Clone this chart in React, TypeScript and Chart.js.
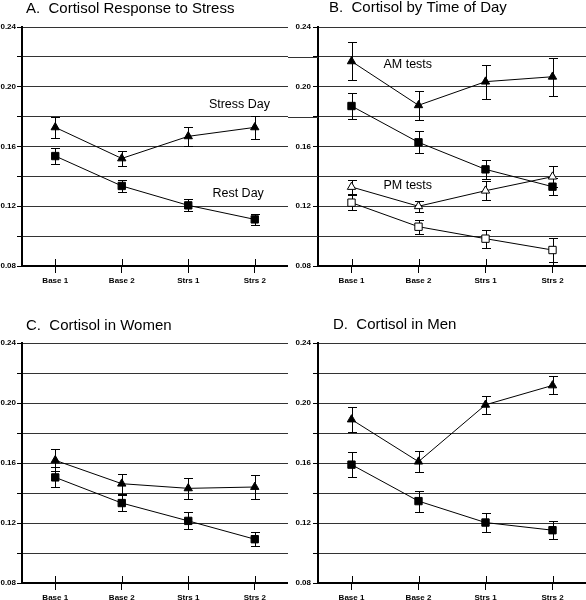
import React, { useEffect, useRef } from "react";
import { Chart, registerables } from "chart.js";

Chart.register(...registerables);

// ---------- data ----------
const categories = ["Base 1", "Base 2", "Strs 1", "Strs 2"];
const yMin = 0.08;
const yMax = 0.24;
const yStep = 0.02;

// Panel A: Cortisol Response to Stress
const stressDay = [0.1728, 0.152, 0.1668, 0.1728];
const stressDayErr = [0.007, 0.0053, 0.0065, 0.0075];
const restDay = [0.1536, 0.1336, 0.1206, 0.1112];
const restDayErr = [0.0054, 0.0043, 0.004, 0.0037];

// Panel B: Cortisol by Time of Day
const amStress = [0.217, 0.1876, 0.2034, 0.2067];
const amStressErr = [0.0128, 0.0096, 0.0114, 0.0127];
const amRest = [0.1871, 0.1628, 0.1447, 0.1331];
const amRestErr = [0.0085, 0.0074, 0.0064, 0.0055];
const pmStress = [0.1329, 0.12, 0.1304, 0.1398];
const pmStressErr = [0.005, 0.0038, 0.0063, 0.0072];
const pmRest = [0.1224, 0.1063, 0.0983, 0.0907];
const pmRestErr = [0.0052, 0.0046, 0.006, 0.0082];

// Panel C: Cortisol in Women
const womenStress = [0.1618, 0.1462, 0.1431, 0.144];
const womenStressErr = [0.0074, 0.0067, 0.0068, 0.0078];
const womenRest = [0.1504, 0.1333, 0.1214, 0.1092];
const womenRestErr = [0.0067, 0.0054, 0.0057, 0.0045];

// Panel D: Cortisol in Men
const menStress = [0.189, 0.1609, 0.1988, 0.2117];
const menStressErr = [0.0086, 0.0069, 0.0059, 0.006];
const menRest = [0.1589, 0.1346, 0.1203, 0.1152];
const menRestErr = [0.0085, 0.007, 0.0062, 0.006];

const FONT = '"Liberation Sans", Arial, Helvetica, sans-serif';

// ---------- plugins ----------
const errorBarPlugin = {
  id: "errorBars",
  beforeDatasetsDraw(chart: any) {
    const ctx = chart.ctx;
    const ys = chart.scales.y;
    chart.data.datasets.forEach((ds: any, i: number) => {
      const errs = ds.errors;
      if (!errs) return;
      const meta = chart.getDatasetMeta(i);
      meta.data.forEach((pt: any, j: number) => {
        const v = ds.data[j];
        const e = errs[j];
        const x = Math.round(pt.x) + 0.5;
        const yt = Math.round(ys.getPixelForValue(v + e)) + 0.5;
        const yb = Math.round(ys.getPixelForValue(v - e)) + 0.5;
        ctx.save();
        ctx.strokeStyle = "#000";
        ctx.lineWidth = 1;
        ctx.beginPath();
        ctx.moveTo(x, yt);
        ctx.lineTo(x, yb);
        ctx.moveTo(x - 4.5, yt);
        ctx.lineTo(x + 4.5, yt);
        ctx.moveTo(x - 4.5, yb);
        ctx.lineTo(x + 4.5, yb);
        ctx.stroke();
        ctx.restore();
      });
    });
  },
};

const decorPlugin = {
  id: "panelDecor",
  afterDraw(chart: any, _args: any, opts: any) {
    const ctx = chart.ctx;
    const area = chart.chartArea;
    const xs = chart.scales.x;
    const ys = chart.scales.y;
    ctx.save();
    // x ticks crossing above the axis
    ctx.strokeStyle = "#000";
    ctx.lineWidth = 1;
    ctx.beginPath();
    xs.ticks.forEach((_t: any, i: number) => {
      const x = Math.round(xs.getPixelForTick(i)) + 0.5;
      ctx.moveTo(x, area.bottom - 7);
      ctx.lineTo(x, area.bottom);
    });
    ctx.stroke();
    // long minor gridline stubs
    if (opts.extendMinor) {
      ctx.strokeStyle = "#333";
      ctx.beginPath();
      ys.ticks.forEach((t: any) => {
        const k = Math.round(t.value * 100);
        if (k % 4 !== 0) {
          const y = Math.round(ys.getPixelForValue(t.value)) + 0.5;
          ctx.moveTo(0, y);
          ctx.lineTo(area.left, y);
        }
      });
      ctx.stroke();
    }
    // title
    ctx.fillStyle = "#000";
    ctx.font = `15px ${FONT}`;
    ctx.textAlign = "left";
    ctx.textBaseline = "alphabetic";
    ctx.fillText(opts.title, area.left + opts.titleDx, opts.titleY);
    // in-plot labels
    ctx.font = `12.5px ${FONT}`;
    ctx.textAlign = "center";
    ctx.textBaseline = "middle";
    (opts.labels || []).forEach((l: any) => {
      ctx.fillText(l.text, xs.getPixelForValue(l.at), ys.getPixelForValue(l.value));
    });
    ctx.restore();
  },
};

// ---------- helpers ----------
function series(data: number[], errors: number[], style: string, filled: boolean) {
  return {
    data,
    errors,
    borderColor: "#000",
    borderWidth: 1,
    tension: 0,
    pointStyle: style,
    pointRadius: style === "triangle" ? 4.8 : 5.2,
    pointHoverRadius: style === "triangle" ? 4.8 : 5.2,
    pointBackgroundColor: filled ? "#000" : "#fff",
    pointBorderColor: "#000",
    pointBorderWidth: 1,
  };
}

type PanelProps = {
  left: number;
  top: number;
  width: number;
  height: number;
  datasets: any[];
  title: string;
  titleDx: number;
  titleY: number;
  padTop: number;
  yWidth: number;
  yPad: number;
  xHeight: number;
  labels?: { text: string; at: number; value: number }[];
  extendMinor?: boolean;
};

function Panel(p: PanelProps) {
  const ref = useRef<HTMLCanvasElement | null>(null);
  useEffect(() => {
    if (!ref.current) return;
    const chart = new Chart(ref.current, {
      type: "line",
      data: { labels: categories, datasets: p.datasets },
      options: {
        animation: false,
        responsive: false,
        devicePixelRatio: 1,
        layout: { autoPadding: false, padding: { top: p.padTop, left: 0, right: 0, bottom: 0 } },
        plugins: {
          legend: { display: false },
          tooltip: { enabled: false },
          panelDecor: {
            title: p.title,
            titleDx: p.titleDx,
            titleY: p.titleY,
            labels: p.labels || [],
            extendMinor: !!p.extendMinor,
          },
        } as any,
        scales: {
          x: {
            type: "category",
            offset: true,
            grid: {
              display: true,
              drawOnChartArea: false,
              drawTicks: true,
              tickLength: 7,
              color: "#000",
              tickColor: "#000",
              lineWidth: 1,
              offset: false,
            },
            border: { display: true, width: 2, color: "#000" },
            ticks: {
              color: "#000",
              font: { family: FONT, size: 8, weight: "bold" },
              padding: 3,
              maxRotation: 0,
              autoSkip: false,
            },
            afterFit: (s: any) => {
              s.height = p.xHeight;
            },
          } as any,
          y: {
            type: "linear",
            min: yMin,
            max: yMax,
            grid: {
              color: "#333",
              tickColor: "#000",
              lineWidth: 1,
              drawTicks: true,
              tickLength: 5,
            },
            border: { display: true, width: 2, color: "#000" },
            ticks: {
              stepSize: yStep,
              color: "#000",
              padding: p.yPad,
              font: { family: FONT, size: 8, weight: "bold" },
              callback: (v: any) => {
                const k = Math.round(Number(v) * 100);
                return k % 4 === 0 ? (k / 100).toFixed(2) : "";
              },
            },
            afterFit: (s: any) => {
              s.width = p.yWidth;
            },
          } as any,
        },
      },
      plugins: [errorBarPlugin, decorPlugin],
    });
    return () => chart.destroy();
  }, []);
  return (
    <canvas
      ref={ref}
      width={p.width}
      height={p.height}
      style={{ position: "absolute", left: p.left, top: p.top, width: p.width, height: p.height }}
    />
  );
}

export default function App() {
  return (
    <div
      style={{
        position: "fixed",
        left: 0,
        top: 0,
        width: 586,
        height: 600,
        background: "#fff",
        overflow: "hidden",
      }}
    >
      <Panel
        left={0}
        top={0}
        width={288}
        height={300}
        title="A.  Cortisol Response to Stress"
        titleDx={4}
        titleY={12.5}
        padTop={27}
        yWidth={22}
        yPad={1}
        xHeight={34}
        datasets={[
          series(stressDay, stressDayErr, "triangle", true),
          series(restDay, restDayErr, "rect", true),
        ]}
        labels={[
          { text: "Stress Day", at: 2.77, value: 0.1878 },
          { text: "Rest Day", at: 2.75, value: 0.1282 },
        ]}
      />
      <Panel
        left={288}
        top={0}
        width={298}
        height={300}
        title="B.  Cortisol by Time of Day"
        titleDx={11}
        titleY={11.5}
        padTop={27}
        yWidth={30}
        yPad={2}
        xHeight={34}
        extendMinor
        datasets={[
          series(amStress, amStressErr, "triangle", true),
          series(amRest, amRestErr, "rect", true),
          series(pmStress, pmStressErr, "triangle", false),
          series(pmRest, pmRestErr, "rect", false),
        ]}
        labels={[
          { text: "AM tests", at: 0.84, value: 0.2149 },
          { text: "PM tests", at: 0.84, value: 0.1336 },
        ]}
      />
      <Panel
        left={0}
        top={300}
        width={288}
        height={300}
        title="C.  Cortisol in Women"
        titleDx={4}
        titleY={30}
        padTop={43}
        yWidth={22}
        yPad={1}
        xHeight={17}
        datasets={[
          series(womenStress, womenStressErr, "triangle", true),
          series(womenRest, womenRestErr, "rect", true),
        ]}
      />
      <Panel
        left={288}
        top={300}
        width={298}
        height={300}
        title="D.  Cortisol in Men"
        titleDx={15}
        titleY={29}
        padTop={43}
        yWidth={30}
        yPad={2}
        xHeight={17}
        datasets={[
          series(menStress, menStressErr, "triangle", true),
          series(menRest, menRestErr, "rect", true),
        ]}
      />
    </div>
  );
}
